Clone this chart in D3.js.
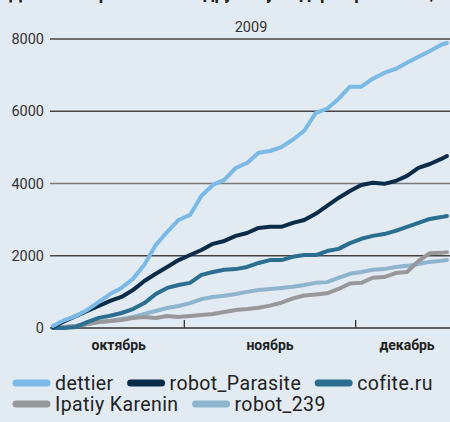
<!DOCTYPE html>
<meta charset="utf-8">
<head>
<style>
body { margin: 0; background: #e3ebf2; }
svg { display: block; font-family: Roboto, "DejaVu Sans", sans-serif; }
.grid line { stroke: #444; stroke-width: 1.3; }
.ylab { font-size: 14.5px; fill: #333; }
.month { font-size: 14px; font-weight: bold; fill: #222; }
.series { fill: none; stroke-width: 4; stroke-linejoin: round; stroke-linecap: round; }
.legend text { font-size: 19.5px; fill: #222; letter-spacing: 0.4px; }
</style>
</head>
<body>
<script src="https://cdnjs.cloudflare.com/ajax/libs/d3/7.8.5/d3.min.js"></script>
<script>
//---------------------------DATA---------------------------//
var dates = ["2009-10-09","2009-10-11","2009-10-13","2009-10-15","2009-10-17","2009-10-19",
  "2009-10-21","2009-10-23","2009-10-25","2009-10-27","2009-10-29","2009-10-31",
  "2009-11-02","2009-11-04","2009-11-06","2009-11-08","2009-11-10","2009-11-12",
  "2009-11-14","2009-11-16","2009-11-18","2009-11-20","2009-11-22","2009-11-24",
  "2009-11-26","2009-11-28","2009-11-30","2009-12-02","2009-12-04","2009-12-06",
  "2009-12-08","2009-12-10","2009-12-12","2009-12-14","2009-12-16","2009-12-17"];

var dettier = [55, 220, 330, 500, 720, 940, 1110, 1360, 1750, 2300, 2660, 2990,
  3130, 3660, 3960, 4100, 4430, 4570, 4850, 4900, 5010, 5210, 5460, 5950,
  6070, 6340, 6680, 6680, 6900, 7060, 7170, 7340, 7510, 7670, 7840, 7890];
var robotParasite = [30, 190, 330, 470, 610, 750, 860, 1050, 1300, 1500, 1690, 1880,
  2020, 2160, 2330, 2410, 2550, 2630, 2770, 2800, 2800, 2910, 2990, 3160,
  3380, 3600, 3790, 3960, 4020, 3990, 4070, 4210, 4430, 4540, 4680, 4760];
var cofite = [0, 0, 30, 160, 280, 340, 415, 525, 690, 940, 1110, 1190,
  1250, 1470, 1550, 1610, 1630, 1690, 1800, 1880, 1880, 1970, 2020, 2020,
  2130, 2190, 2350, 2470, 2550, 2600, 2690, 2800, 2910, 3020, 3070, 3100];
var ipatiy = [0, 30, 55, 110, 165, 195, 220, 275, 305, 275, 330, 305,
  330, 360, 390, 445, 500, 525, 560, 620, 700, 820, 900, 930,
  960, 1080, 1230, 1250, 1390, 1410, 1520, 1550, 1850, 2070, 2080, 2100];
var robot239 = [0, 30, 55, 110, 165, 195, 250, 305, 390, 470, 555, 610,
  690, 800, 860, 890, 940, 1000, 1050, 1080, 1110, 1140, 1190, 1250,
  1270, 1390, 1500, 1550, 1610, 1630, 1690, 1720, 1770, 1830, 1860, 1880];

var seriesNames = ["dettier", "robot_Parasite", "cofite.ru", "Ipatiy Karenin", "robot_239"];
var seriesValues = [dettier, robotParasite, cofite, ipatiy, robot239];
var seriesColors = ["#7bb9e6", "#0b2c48", "#2a6f8f", "#98989a", "#8db5cd"];
var drawOrder = [4, 3, 2, 1, 0];

var yTicks = [0, 2000, 4000, 6000, 8000];
var months = [["2009-10-01", "октябрь"], ["2009-11-01", "ноябрь"], ["2009-12-01", "декабрь"]];
var yearLabel = "2009";
var titleText = "Динамика роста числа друзей у лидеров рейтинга,";

//--------------------------SETUP---------------------------//
var width = 450, height = 422;
var parse = d3.timeParse("%Y-%m-%d");

var svg = d3.select("body").append("svg")
    .attr("width", width)
    .attr("height", height);

svg.append("rect").attr("width", width).attr("height", height).attr("fill", "#e3ebf2");

var x = d3.scaleTime()
    .domain([parse(dates[0]), parse(dates[dates.length - 1])])
    .range([53, 447]);
var y = d3.scaleLinear().domain([0, 8000]).range([328, 39]);

// headline above the chart, only its descenders show at the top edge
svg.append("text")
    .attr("x", 9).attr("y", -3.5)
    .style("font-size", "31px").style("font-weight", "bold").attr("fill", "#222")
    .attr("textLength", 425).attr("lengthAdjust", "spacingAndGlyphs")
    .text(titleText);

//--------------------------GRID----------------------------//
var grid = svg.append("g").attr("class", "grid");
grid.selectAll("line").data(yTicks).enter().append("line")
    .attr("x1", 50).attr("x2", width)
    .attr("y1", d => y(d)).attr("y2", d => y(d))
    .style("stroke", d => d == 4000 ? "#7a7a7a" : (d == 0 ? "#333" : "#454545"));

svg.selectAll(".ylab").data(yTicks).enter().append("text")
    .attr("class", "ylab")
    .attr("x", 44).attr("y", d => y(d))
    .attr("dy", "0.36em")
    .attr("text-anchor", "end")
    .text(d => d);

svg.append("text").attr("class", "ylab")
    .attr("x", 251).attr("y", 32).attr("text-anchor", "middle")
    .text(yearLabel);

// month ticks and labels
var labelEnd = d3.timeDay.offset(parse(dates[dates.length - 1]), 2);
svg.selectAll(".mtick").data(months.slice(1)).enter().append("line")
    .attr("x1", d => x(parse(d[0]))).attr("x2", d => x(parse(d[0])))
    .attr("y1", 320).attr("y2", 328)
    .attr("stroke", "#333").attr("stroke-width", 1.3);

svg.selectAll(".month").data(months).enter().append("text")
    .attr("class", "month")
    .attr("x", function(d) {
        var s = parse(d[0]);
        var e = d3.timeMonth.offset(s, 1);
        var a = Math.max(s, x.domain()[0]);
        var b = Math.min(e, labelEnd);
        return (x(a) + x(b)) / 2;
    })
    .attr("y", 350)
    .attr("text-anchor", "middle")
    .text(d => d[1]);

//--------------------------LINES---------------------------//
var line = d3.line()
    .x((d, i) => x(parse(dates[i])))
    .y(d => y(d));

svg.selectAll(".series").data(drawOrder).enter().append("path")
    .attr("class", "series")
    .attr("stroke", i => seriesColors[i])
    .attr("d", i => line(seriesValues[i]));

//--------------------------LEGEND--------------------------//
var rows = [[0, 1, 2], [3, 4]];
var rowY = [383, 404];
var legend = svg.append("g").attr("class", "legend");
rows.forEach(function(row, r) {
    var cx = 13;
    row.forEach(function(i) {
        legend.append("line")
            .attr("x1", cx + 3).attr("x2", cx + 34)
            .attr("y1", rowY[r]).attr("y2", rowY[r])
            .attr("stroke", seriesColors[i])
            .attr("stroke-width", 7)
            .attr("stroke-linecap", "round");
        var t = legend.append("text")
            .attr("x", cx + 42).attr("y", rowY[r] + 7)
            .text(seriesNames[i]);
        cx = cx + 42 + t.node().getComputedTextLength() + 14;
    });
});
</script>
</body>
</html>
